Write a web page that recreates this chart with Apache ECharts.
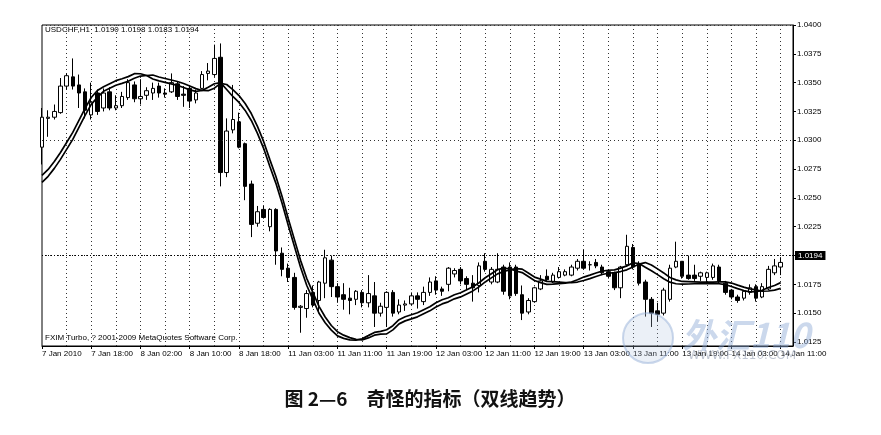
<!DOCTYPE html>
<html>
<head>
<meta charset="utf-8">
<script src="https://cdn.jsdelivr.net/npm/echarts@6/dist/echarts.min.js"></script>
<style>
html,body{margin:0;padding:0;background:#fff;}
#chart{width:881px;height:435px;}
</style>
</head>
<body>
<div id="chart"></div>
<script>
// trading sessions (day, first hour, last hour) – two empty slots at the end (chart shift)
const sessions = [['7 Jan',10,23],['8 Jan',0,22],['11 Jan',0,23],['12 Jan',0,23],['13 Jan',0,23],['14 Jan',0,13]];
const tickLabels = ['7 Jan 2010','7 Jan 18:00','8 Jan 02:00','8 Jan 10:00','8 Jan 18:00','11 Jan 03:00','11 Jan 11:00','11 Jan 19:00','12 Jan 03:00','12 Jan 11:00','12 Jan 19:00','13 Jan 03:00','13 Jan 11:00','13 Jan 19:00','14 Jan 03:00','14 Jan 11:00'];
const yTicks = [1.0125,1.0150,1.0175,1.0200,1.0225,1.0250,1.0275,1.0300,1.0325,1.0350,1.0375,1.0400];

// [open, close, low, high]
const candles = [
[1.0294,1.0320,1.0279,1.0328],[1.0319,1.0320,1.0303,1.0326],[1.0320,1.0325,1.0318,1.0331],[1.0324,1.0347,1.0323,1.0354],
[1.0347,1.0356,1.0344,1.0358],[1.0355,1.0347,1.0344,1.0371],[1.0348,1.0341,1.0328,1.0357],[1.0342,1.0326,1.0319,1.0345],
[1.0322,1.0333,1.0318,1.0350],[1.0341,1.0325,1.0322,1.0344],[1.0328,1.0341,1.0325,1.0345],[1.0342,1.0328,1.0326,1.0346],
[1.0328,1.0330,1.0326,1.0339],[1.0330,1.0338,1.0328,1.0342],[1.0337,1.0350,1.0335,1.0353],[1.0348,1.0336,1.0333,1.0351],
[1.0336,1.0338,1.0331,1.0353],[1.0339,1.0343,1.0335,1.0346],[1.0341,1.0345,1.0335,1.0350],[1.0347,1.0341,1.0337,1.0350],
[1.0341,1.0340,1.0337,1.0345],[1.0342,1.0350,1.0341,1.0358],[1.0349,1.0338,1.0335,1.0351],[1.0340,1.0339,1.0329,1.0347],
[1.0345,1.0334,1.0328,1.0348],[1.0335,1.0341,1.0332,1.0344],[1.0345,1.0357,1.0344,1.0360],[1.0358,1.0360,1.0352,1.0367],
[1.0357,1.0371,1.0355,1.0383],[1.0372,1.0272,1.0260,1.0384],[1.0272,1.0308,1.0268,1.0319],[1.0309,1.0318,1.0306,1.0348],
[1.0316,1.0294,1.0293,1.0324],[1.0297,1.0260,1.0248,1.0298],[1.0262,1.0227,1.0216,1.0265],[1.0228,1.0238,1.0225,1.0243],
[1.0240,1.0233,1.0232,1.0243],[1.0225,1.0240,1.0221,1.0241],[1.0240,1.0204,1.0192,1.0241],[1.0202,1.0188,1.0182,1.0207],
[1.0189,1.0181,1.0177,1.0193],[1.0181,1.0155,1.0153,1.0185],[1.0155,1.0156,1.0133,1.0157],[1.0154,1.0167,1.0146,1.0170],
[1.0168,1.0157,1.0155,1.0174],[1.0161,1.0177,1.0150,1.0178],[1.0176,1.0198,1.0163,1.0205],[1.0196,1.0173,1.0164,1.0200],
[1.0173,1.0164,1.0159,1.0176],[1.0166,1.0162,1.0153,1.0176],[1.0163,1.0161,1.0149,1.0172],[1.0162,1.0169,1.0157,1.0170],
[1.0168,1.0159,1.0155,1.0170],[1.0159,1.0167,1.0155,1.0183],[1.0165,1.0150,1.0138,1.0177],[1.0150,1.0156,1.0147,1.0159],
[1.0155,1.0168,1.0138,1.0169],[1.0168,1.0150,1.0147,1.0170],[1.0151,1.0157,1.0149,1.0162],[1.0157,1.0158,1.0152,1.0161],
[1.0158,1.0165,1.0157,1.0168],[1.0165,1.0162,1.0154,1.0168],[1.0160,1.0168,1.0157,1.0173],[1.0168,1.0177,1.0165,1.0181],
[1.0178,1.0170,1.0166,1.0182],[1.0171,1.0169,1.0165,1.0173],[1.0175,1.0189,1.0169,1.0190],[1.0184,1.0187,1.0181,1.0189],
[1.0188,1.0178,1.0175,1.0190],[1.0180,1.0175,1.0170,1.0182],[1.0176,1.0172,1.0160,1.0183],[1.0174,1.0191,1.0168,1.0194],
[1.0195,1.0188,1.0186,1.0202],[1.0177,1.0188,1.0175,1.0190],[1.0177,1.0188,1.0176,1.0202],[1.0190,1.0169,1.0166,1.0192],
[1.0190,1.0165,1.0162,1.0194],[1.0190,1.0167,1.0165,1.0192],[1.0166,1.0150,1.0144,1.0174],[1.0151,1.0161,1.0149,1.0163],
[1.0160,1.0172,1.0159,1.0173],[1.0171,1.0178,1.0170,1.0183],[1.0182,1.0179,1.0178,1.0188],[1.0177,1.0183,1.0176,1.0185],
[1.0181,1.0186,1.0180,1.0190],[1.0183,1.0186,1.0182,1.0188],[1.0183,1.0190,1.0182,1.0192],[1.0189,1.0195,1.0187,1.0197],
[1.0195,1.0189,1.0188,1.0205],[1.0192,1.0192,1.0187,1.0195],[1.0194,1.0191,1.0189,1.0197],[1.0190,1.0185,1.0183,1.0192],
[1.0186,1.0182,1.0180,1.0188],[1.0185,1.0172,1.0170,1.0186],[1.0172,1.0190,1.0163,1.0191],[1.0192,1.0208,1.0190,1.0218],
[1.0207,1.0190,1.0188,1.0210],[1.0192,1.0176,1.0174,1.0195],[1.0177,1.0162,1.0147,1.0179],[1.0162,1.0150,1.0138,1.0164],
[1.0152,1.0149,1.0143,1.0159],[1.0150,1.0170,1.0148,1.0172],[1.0162,1.0189,1.0160,1.0192],[1.0190,1.0195,1.0189,1.0212],
[1.0195,1.0182,1.0180,1.0195],[1.0183,1.0180,1.0179,1.0200],[1.0183,1.0180,1.0178,1.0192],[1.0182,1.0185,1.0178,1.0186],
[1.0181,1.0185,1.0176,1.0186],[1.0181,1.0191,1.0179,1.0193],[1.0190,1.0178,1.0176,1.0192],[1.0176,1.0168,1.0166,1.0178],
[1.0170,1.0164,1.0162,1.0171],[1.0164,1.0161,1.0159,1.0166],[1.0163,1.0169,1.0161,1.0170],[1.0168,1.0172,1.0166,1.0175],
[1.0173,1.0163,1.0160,1.0175],[1.0164,1.0173,1.0163,1.0176],[1.0171,1.0188,1.0170,1.0191],[1.0185,1.0191,1.0183,1.0197],
[1.0190,1.0194,1.0183,1.0198]
];

const maFast = [
1.02695,1.02747,1.02816,1.02894,1.02981,1.03068,1.03172,1.03276,1.03371,1.03432,
1.03465,1.03491,1.03517,1.03534,1.03552,1.03578,1.03577,1.03562,1.03532,1.03515,
1.03502,1.03489,1.03476,1.03458,1.03437,1.03424,1.03432,1.03460,1.03490,1.03500,
1.03440,1.03380,1.03328,1.03259,1.03172,1.03060,1.02930,1.02774,1.02626,1.02453,
1.02262,1.02080,1.01898,1.01742,1.01620,1.01499,1.01417,1.01353,1.01303,1.01281,
1.01268,1.01265,1.01278,1.01305,1.01333,1.01342,1.01356,1.01391,1.01443,1.01469,
1.01486,1.01504,1.01530,1.01556,1.01590,1.01616,1.01634,1.01660,1.01677,1.01703,
1.01729,1.01764,1.01807,1.01842,1.01877,1.01890,1.01885,1.01866,1.01852,1.01818,
1.01783,1.01765,1.01750,1.01752,1.01756,1.01760,1.01770,1.01790,1.01813,1.01830,
1.01848,1.01865,1.01872,1.01875,1.01891,1.01910,1.01937,1.01930,1.01899,1.01868,
1.01834,1.01799,1.01769,1.01755,1.01751,1.01753,1.01755,1.01757,1.01757,1.01757,
1.01755,1.01747,1.01731,1.01713,1.01696,1.01685,1.01686,1.01698,1.01722,1.01740,
1.01765
];
const maSlow = [
1.02635,1.02687,1.02756,1.02834,1.02921,1.03008,1.03112,1.03216,1.03311,1.03372,
1.03425,1.03451,1.03477,1.03494,1.03512,1.03538,1.03557,1.03562,1.03566,1.03549,
1.03536,1.03523,1.03510,1.03492,1.03471,1.03448,1.03432,1.03430,1.03452,1.03494,
1.03484,1.03440,1.03388,1.03319,1.03232,1.03120,1.02990,1.02834,1.02686,1.02513,
1.02322,1.02140,1.01958,1.01802,1.01680,1.01559,1.01467,1.01393,1.01339,1.01309,
1.01288,1.01273,1.01268,1.01285,1.01309,1.01318,1.01320,1.01355,1.01407,1.01433,
1.01450,1.01468,1.01494,1.01520,1.01554,1.01580,1.01598,1.01624,1.01641,1.01667,
1.01693,1.01728,1.01771,1.01806,1.01841,1.01862,1.01875,1.01886,1.01882,1.01848,
1.01813,1.01795,1.01776,1.01774,1.01770,1.01766,1.01764,1.01770,1.01783,1.01800,
1.01818,1.01835,1.01846,1.01851,1.01861,1.01876,1.01901,1.01926,1.01939,1.01918,
1.01884,1.01849,1.01809,1.01789,1.01775,1.01773,1.01771,1.01769,1.01769,1.01769,
1.01771,1.01771,1.01761,1.01743,1.01726,1.01711,1.01702,1.01690,1.01692,1.01700,
1.01715
];

const categories = [];
sessions.forEach(s => { for (let h = s[1]; h <= s[2]; h++) categories.push(s[0] + ' ' + String(h).padStart(2,'0') + ':00'); });

const last = candles[candles.length - 1];
const header = 'USDCHF,H1  ' + [last[0], last[3], last[2], last[1]].map(v => v.toFixed(4)).join(' ');
const lastClose = last[1];

const chart = echarts.init(document.getElementById('chart'), null, {renderer: 'canvas'});
const font = 'Liberation Sans';
const dotted = {color: '#333', type: [1, 3], width: 1};
chart.setOption({
  animation: false,
  backgroundColor: '#fff',
  grid: {left: 42, right: 88, top: 25, bottom: 89, show: true, borderColor: '#000', borderWidth: 1, backgroundColor: 'transparent'},
  xAxis: {
    type: 'category', data: categories, boundaryGap: false,
    axisLine: {lineStyle: {color: '#000', width: 1}},
    axisTick: {show: true, interval: (i) => i % 8 === 0, length: 3, lineStyle: {color: '#000'}},
    axisLabel: {interval: (i) => i % 8 === 0, formatter: (v, i) => tickLabels[i / 8] || '', align: 'left', margin: 4,
      color: '#000', fontSize: 8, fontFamily: font, showMaxLabel: true},
    splitLine: {show: true, interval: (i) => i % 4 === 0 && i > 0, lineStyle: dotted}
  },
  yAxis: {
    type: 'value', position: 'right', min: 1.01215, max: 1.0400,
    axisLine: {show: true, lineStyle: {color: '#000'}},
    axisTick: {show: true, customValues: yTicks, length: 3, lineStyle: {color: '#000'}},
    axisLabel: {customValues: yTicks, formatter: (v) => Number(v).toFixed(4), margin: 4, color: '#000', fontSize: 8, fontFamily: font},
    splitLine: {show: false}
  },
  series: [
    {type: 'line', data: [], z: 1, silent: true,
     markLine: {silent: true, symbol: ['none', 'none'], animation: false, label: {show: false},
       lineStyle: dotted,
       data: yTicks.map(v => ({yAxis: v}))}},
    {type: 'candlestick', data: candles, barWidth: 4, z: 3,
     itemStyle: {color: '#fff', color0: '#000', borderColor: '#000', borderColor0: '#000', borderWidth: 1},
     markLine: {silent: true, symbol: ['none', 'none'], animation: false,
       lineStyle: {type: [1, 2], color: '#000', width: 1},
       data: [{yAxis: lastClose, label: {show: true, position: 'end', distance: 2, formatter: lastClose.toFixed(4),
         backgroundColor: '#000', color: '#fff', padding: [1, 3, 0, 3], fontSize: 8, fontFamily: font}}]}},
    {type: 'line', data: maFast, showSymbol: false, symbol: 'none', z: 4,
     lineStyle: {color: '#000', width: 1.7}},
    {type: 'line', data: maSlow, showSymbol: false, symbol: 'none', z: 4,
     lineStyle: {color: '#000', width: 1.7}}
  ],
  graphic: [
    {type: 'text', left: 45, top: 26, z: 10, style: {text: header, font: '8px "Liberation Sans"', fill: '#000'}},
    {type: 'text', left: 45, top: 334, z: 10, style: {text: 'FXIM Turbo, ? 2001-2009 MetaQuotes Software Corp.', font: '8px "Liberation Sans"', fill: '#000'}},
    {type: 'circle', shape: {cx: 648, cy: 338, r: 25}, z: 9, silent: true,
     style: {fill: 'rgba(175,195,225,0.25)', stroke: 'rgba(150,175,215,0.5)', lineWidth: 2}},
    {type: 'text', x: 682, y: 318, z: 9, silent: true,
     style: {text: '外汇110', font: 'italic bold 34px "Noto Sans CJK SC"', fill: 'rgba(140,168,212,0.45)'}},
    {type: 'text', x: 688, y: 350, z: 9, silent: true,
     style: {text: 'WWW.FX110.COM', font: '12px "DejaVu Sans"', fill: 'rgba(150,160,180,0.6)'}},
    {type: 'text', x: 430, y: 399, z: 10,
     style: {text: '图 2—6　奇怪的指标（双线趋势）', font: 'bold 19px "Noto Sans CJK SC"', fill: '#111', textAlign: 'center', textVerticalAlign: 'middle'}}
  ]
});
</script>
</body>
</html>
